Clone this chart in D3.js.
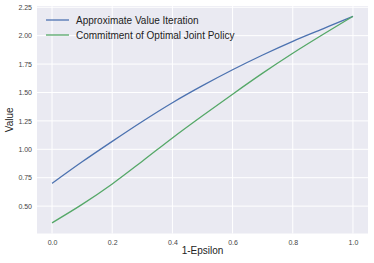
<!DOCTYPE html>
<html><head><meta charset="utf-8">
<script src="https://cdn.jsdelivr.net/npm/d3@7"></script>
<style>body{margin:0;background:#fff}svg{display:block}</style>
</head><body><svg id="c" width="374" height="263"></svg>
<script>
const xs = [0.0,0.1,0.2,0.3,0.4,0.5,0.6,0.7,0.8,0.9,1.0];
const aviValues = [0.70,0.89,1.07,1.245,1.41,1.56,1.70,1.83,1.95,2.06,2.17];
const commitValues = [0.353,0.515,0.695,0.895,1.10,1.295,1.485,1.67,1.845,2.01,2.17];
const seriesNames = ["Approximate Value Iteration","Commitment of Optimal Joint Policy"];
const seriesColors = ["#4C72B0","#55A868"];
const xTicks = [0,0.2,0.4,0.6,0.8,1.0];
const yTicks = [0.5,0.75,1.0,1.25,1.5,1.75,2.0,2.25];

const svg = d3.select("#c");
const L=37,R=368,T=6,B=233.5;
const x = d3.scaleLinear().domain([-0.05,1.05]).range([L,R]);
const y = d3.scaleLinear().domain([0.259,2.261]).range([B,T]);
svg.append("rect").attr("x",L).attr("y",T).attr("width",R-L).attr("height",B-T).attr("fill","#EAEAF2");
const g = svg.append("g");
g.selectAll(".vx").data(xTicks).join("line").attr("x1",d=>x(d)).attr("x2",d=>x(d)).attr("y1",T).attr("y2",B).attr("stroke","#fff").attr("stroke-width",1);
g.selectAll(".hy").data(yTicks).join("line").attr("y1",d=>y(d)).attr("y2",d=>y(d)).attr("x1",L).attr("x2",R).attr("stroke","#fff").attr("stroke-width",1);

const xAxis = svg.append("g").attr("transform",`translate(0,${B})`).call(d3.axisBottom(x).tickValues(xTicks).tickFormat(d3.format(".1f")).tickSize(0).tickPadding(7));
const yAxis = svg.append("g").attr("transform",`translate(${L},0)`).call(d3.axisLeft(y).tickValues(yTicks).tickFormat(d3.format(".2f")).tickSize(0).tickPadding(5));
[xAxis,yAxis].forEach(a=>{a.select(".domain").remove();a.selectAll("text").attr("font-family","Liberation Sans, Arial, sans-serif").attr("font-size",7).attr("fill","#444");});

const line = d3.line().x((d,i)=>x(xs[i])).y(d=>y(d)).curve(d3.curveMonotoneX);
[aviValues,commitValues].forEach((vals,i)=>{
  svg.append("path").attr("d",line(vals)).attr("fill","none").attr("stroke",seriesColors[i]).attr("stroke-width",1.3);
});

const leg = svg.append("g");
seriesNames.forEach((n,i)=>{
  const yy = 20 + i*15;
  leg.append("line").attr("x1",46).attr("x2",69).attr("y1",yy).attr("y2",yy).attr("stroke",seriesColors[i]).attr("stroke-width",1.3);
  leg.append("text").attr("x",76).attr("y",yy+3.5).text(n).attr("font-family","Liberation Sans, Arial, sans-serif").attr("font-size",10).attr("fill","#222");
});

svg.append("text").attr("x",(L+R)/2).attr("y",254).attr("text-anchor","middle").text("1-Epsilon").attr("font-family","Liberation Sans, Arial, sans-serif").attr("font-size",10).attr("fill","#222");
svg.append("text").attr("transform",`translate(13,${(T+B)/2}) rotate(-90)`).attr("text-anchor","middle").text("Value").attr("font-family","Liberation Sans, Arial, sans-serif").attr("font-size",10).attr("fill","#222");
</script></body></html>
